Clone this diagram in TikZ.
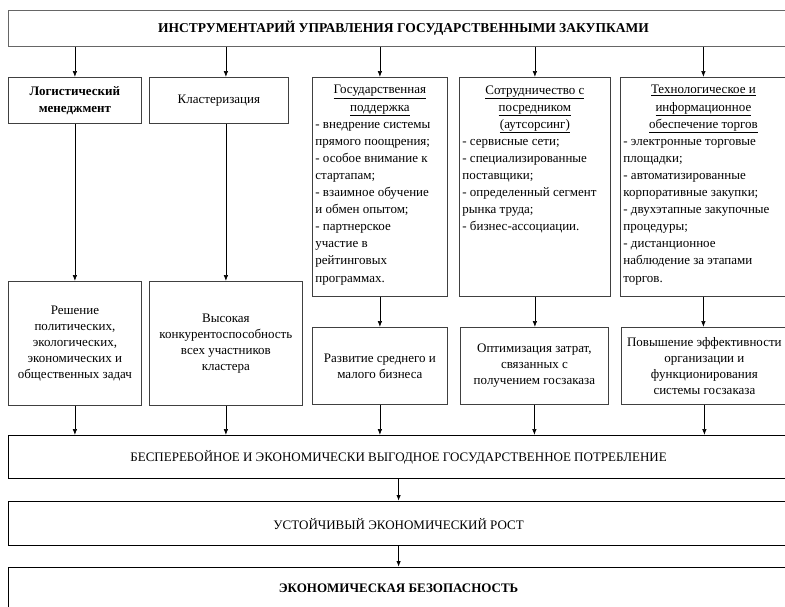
\documentclass[tikz,border=0pt]{standalone}
\usepackage{fontspec}
\setmainfont{Liberation Serif}
\usetikzlibrary{arrows.meta}

\newcommand{\topbox}[3]{\parbox[c][#2][t]{#1}{#3}}

\begin{document}
\begin{tikzpicture}[x=1pt, y=-1pt,
    box/.style={draw=black!75, line width=0.8pt, inner sep=3pt, anchor=north west, align=center, font=\fontsize{13}{16}\selectfont},
    listbox/.style={box, font=\fontsize{13}{17.1}\selectfont},
    widebox/.style={box, draw=black, line width=1.2pt, minimum width=780pt},
    arr/.style={-{Latex[length=6pt,width=4.5pt]}, line width=0.7pt},
    bigarr/.style={arr, line width=1.4pt}]
    \clip (0,0) rectangle (785,606);
    \node[box, draw=black!60, line width=1pt, minimum width=790pt, minimum height=36pt, font=\bfseries\fontsize{13.5}{16}\selectfont] (instr) at (8,10) {ИНСТРУМЕНТАРИЙ УПРАВЛЕНИЯ ГОСУДАРСТВЕННЫМИ ЗАКУПКАМИ};
    \node[box, minimum width=133pt, minimum height=46pt, font=\bfseries\fontsize{13}{17}\selectfont] (logist) at (8,77) {Логистический\\менеджмент};
    \node[box, minimum width=139pt, minimum height=46pt] (klast) at (149,77) {Кластеризация};
    \node[listbox] (gospod) at (312,77) {\topbox{129pt}{213pt}{\vspace*{5pt}\centering\underline{Государственная}\\\underline{поддержка}\par\raggedright
        - внедрение системы\\прямого поощрения;\\- особое внимание к\\стартапам;\\- взаимное обучение\\и обмен опытом;\\- партнерское\\участие в\\рейтинговых\\программах.}};
    \node[listbox] (sotr) at (459,77) {\topbox{145pt}{213pt}{\vspace*{5pt}\centering\underline{Сотрудничество с}\\\underline{посредником}\\\underline{(аутсорсинг)}\par\raggedright
        - сервисные сети;\\- специализированные\\поставщики;\\- определенный сегмент\\рынка труда;\\- бизнес-ассоциации.}};
    \node[listbox] (tehn) at (620,77) {\topbox{160pt}{213pt}{\vspace*{5pt}\centering\underline{Технологическое и}\\\underline{информационное}\\\underline{обеспечение торгов}\par\raggedright
        - электронные торговые\\площадки;\\- автоматизированные\\корпоративные закупки;\\- двухэтапные закупочные\\процедуры;\\- дистанционное\\наблюдение за этапами\\торгов.}};
    \node[box, minimum width=133pt, minimum height=124pt] (reshenie) at (8,281) {Решение\\политических,\\экологических,\\экономических и\\общественных задач};
    \node[box, minimum width=153pt, minimum height=124pt] (vysok) at (149,281) {Высокая\\конкурентоспособность\\всех участников\\кластера};
    \node[box, minimum width=135pt, minimum height=77pt] (razv) at (312,327) {Развитие среднего и\\малого бизнеса};
    \node[box, minimum width=148pt, minimum height=77pt] (optim) at (460,327) {Оптимизация затрат,\\связанных с\\получением госзаказа};
    \node[box, minimum width=166pt, minimum height=77pt] (povysh) at (621,327) {Повышение эффективности\\организации и\\функционирования\\системы госзаказа};
    \node[widebox, minimum height=43pt] (potreb) at (8,435) {БЕСПЕРЕБОЙНОЕ И ЭКОНОМИЧЕСКИ ВЫГОДНОЕ ГОСУДАРСТВЕННОЕ ПОТРЕБЛЕНИЕ};
    \node[widebox, minimum height=44pt] (rost) at (8,501) {УСТОЙЧИВЫЙ ЭКОНОМИЧЕСКИЙ РОСТ};
    \node[widebox, minimum height=41pt, font=\bfseries\fontsize{13}{17}\selectfont] (bezop) at (8,567) {ЭКОНОМИЧЕСКАЯ БЕЗОПАСНОСТЬ};

    \draw[arr] (instr.south -| logist.north) -- (logist.north);
    \draw[arr] (instr.south -| vysok.north) -- (vysok.north |- klast.north);
    \draw[arr] (instr.south -| gospod.north) -- (gospod.north);
    \draw[arr] (instr.south -| sotr.north) -- (sotr.north);
    \draw[arr] (instr.south -| tehn.north) -- (tehn.north);
    \draw[arr] (logist.south) -- (reshenie.north);
    \draw[arr] (klast.south -| vysok.north) -- (vysok.north);
    \draw[arr] (gospod.south) -- (razv.north);
    \draw[arr] (sotr.south) -- (sotr.south |- optim.north);
    \draw[arr] (tehn.south) -- (tehn.south |- povysh.north);
    \draw[arr] (reshenie.south) -- (reshenie.south |- potreb.north);
    \draw[arr] (vysok.south) -- (vysok.south |- potreb.north);
    \draw[arr] (razv.south) -- (razv.south |- potreb.north);
    \draw[arr] (optim.south) -- (optim.south |- potreb.north);
    \draw[arr] (povysh.south) -- (povysh.south |- potreb.north);
    \draw[bigarr] (potreb.south) -- (rost.north);
    \draw[bigarr] (rost.south) -- (bezop.north);
\end{tikzpicture}
\end{document}
